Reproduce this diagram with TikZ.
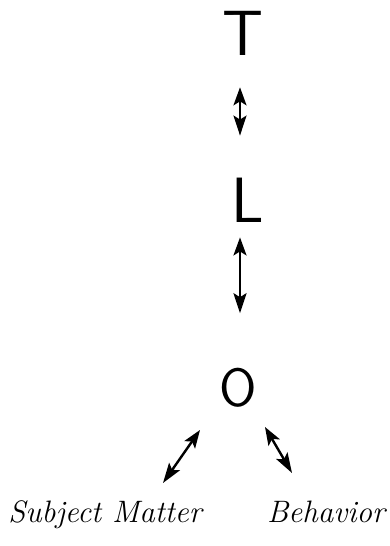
\documentclass[tikz,border=0pt]{standalone}
\usepackage{fontspec}
\usepackage{tikz}
\usetikzlibrary{arrows.meta, calc}

\begin{document}
\begin{tikzpicture}[
    x=1pt, y=-1pt,
    every node/.style={inner sep=0pt, text=black},
    letter/.style={font=\fontsize{64}{64}\selectfont\sffamily},
    label/.style={font=\fontsize{31}{33}\selectfont\itshape},
    twoway/.style={{Stealth[length=18pt,width=13pt,inset=4pt]}-{Stealth[length=20pt,width=13pt,inset=4pt]}, line width=2.4pt, black}
]
\useasboundingbox (0,0) rectangle (389,546);
\node[letter] (T) at (243,33) {T};
\node[letter] (L) at (248,200) {L};
\node[letter, font=\fontsize{54}{54}\selectfont\sffamily] (O) at (238,388) {O};
\node[label] (subj) at (105,515) {Subject Matter};
\node[label] (behav) at (326,512) {Behavior};

\draw[twoway, shorten <=32pt, shorten >=42pt] ([xshift=-3pt]T.south) -- ([xshift=-3pt]T.south |- L.north);
\draw[twoway, shorten <=15pt, shorten >=55pt] ([xshift=2pt]O.north |- L.south) -- ([xshift=2pt]O.north);
\draw[twoway] ([shift={(-38,42)}]O.center) -- ([shift={(58,-32)}]subj.center);
\draw[twoway] ([shift={(27,39)}]O.center) -- ([shift={(-34,-39)}]behav.center);
\end{tikzpicture}
\end{document}
